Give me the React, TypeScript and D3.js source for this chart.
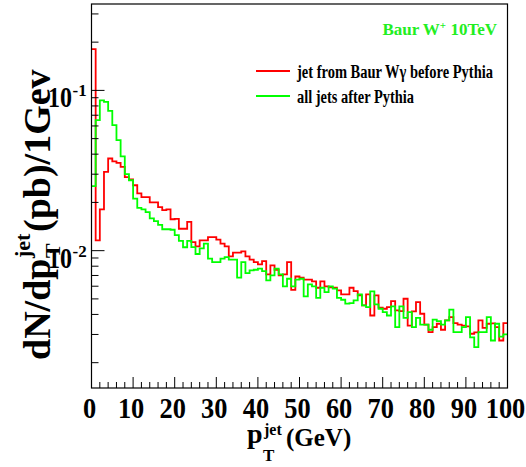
import React from 'react';
import * as d3 from 'd3';

// jet pT spectra, 1 GeV bins from 0 to 100
const redValues = [
  0.181, 0.0116, 0.0181, 0.031, 0.0376, 0.0361, 0.0353, 0.0333, 0.0288, 0.0278,
  0.0256, 0.0228, 0.0216, 0.0216, 0.02, 0.02, 0.0187, 0.0179, 0.0181, 0.0157,
  0.0158, 0.0137, 0.0137, 0.0151, 0.0113, 0.01064, 0.0116, 0.0116, 0.01216, 0.01216,
  0.01172, 0.01106, 0.01064, 0.00921, 0.00972, 0.00972, 0.0099, 0.00921, 0.0088, 0.00849,
  0.0082, 0.00861, 0.00711, 0.0081, 0.0076, 0.00701, 0.00711, 0.00849, 0.0057, 0.0069,
  0.00678, 0.00659, 0.00659, 0.00643, 0.00587, 0.00643, 0.00598, 0.0059, 0.00587, 0.00565,
  0.00533, 0.00533, 0.00587, 0.00559, 0.00526, 0.00455, 0.00533, 0.00394, 0.00526, 0.00441,
  0.00434, 0.00444, 0.00484, 0.00424, 0.00419, 0.00501, 0.00341, 0.00418, 0.00477, 0.00404,
  0.00346, 0.0031, 0.00333, 0.0035, 0.00321, 0.00367, 0.00385, 0.00353, 0.00346, 0.00341,
  0.00337, 0.00303, 0.00309, 0.00367, 0.0033, 0.0035, 0.00352, 0.00333, 0.00275, 0.00353,
];
const greenValues = [
  0.0253, 0.0652, 0.0866, 0.0849, 0.0746, 0.0607, 0.0489, 0.0388, 0.03, 0.0275,
  0.0211, 0.0185, 0.0181, 0.0174, 0.0159, 0.0153, 0.0145, 0.0136, 0.0136, 0.0135,
  0.0125, 0.0115, 0.0105, 0.0115, 0.01053, 0.00953, 0.01033, 0.01106, 0.00891, 0.00849,
  0.00849, 0.00891, 0.00912, 0.0088, 0.0088, 0.00678, 0.00849, 0.00724, 0.00753, 0.0076,
  0.00772, 0.00746, 0.00652, 0.00701, 0.00772, 0.00711, 0.00598, 0.00668, 0.00598, 0.00659,
  0.00668, 0.00518, 0.00616, 0.00598, 0.00508, 0.00587, 0.00551, 0.00598, 0.00579, 0.00508,
  0.00494, 0.00467, 0.0047, 0.00489, 0.00533, 0.00455, 0.00444, 0.00557, 0.00462, 0.00434,
  0.00413, 0.00394, 0.00449, 0.00333, 0.00449, 0.00381, 0.00413, 0.00333, 0.00381, 0.00346,
  0.00346, 0.00321, 0.00371, 0.00363, 0.00346, 0.00367, 0.00428, 0.0031, 0.0031, 0.00333,
  0.00385, 0.00288, 0.0025, 0.0031, 0.0031, 0.00385, 0.00275, 0.0035, 0.00291, 0.003,
];
const xTickLabels = [0, 10, 20, 30, 40, 50, 60, 70, 80, 90, 100];
const yMajor = [0.01, 0.1];
const legendLabels = ['jet from Baur W\u03b3 before Pythia', 'all jets after Pythia'];

const font = '"Liberation Serif", "DejaVu Serif", serif';

export default function App() {
  const left = 91.5, right = 507.5, top = 4, bottom = 388;
  const x = d3.scaleLinear().domain([0, 100]).range([left, right]);
  const y = d3.scaleLog().domain([0.00139, 0.346]).range([bottom, top]);

  const stepPath = (vals: number[]) => {
    const pts: [number, number][] = vals.map((v, i) => [x(i), y(v)]);
    pts.push([x(vals.length), y(vals[vals.length - 1])]);
    return d3.line().curve(d3.curveStepAfter)(pts) || '';
  };

  const minorX = d3.range(0, 101, 2).filter((v) => v % 10 !== 0);
  const minorY: number[] = [];
  [0.001, 0.01, 0.1].forEach((e) => {
    for (let k = 2; k <= 9; k++) {
      const v = k * e;
      if (v > y.domain()[0] && v < y.domain()[1]) minorY.push(v);
    }
  });

  return (
    <div style={{ position: 'absolute', left: 0, top: 0 }}>
      <svg width={526} height={467} style={{ display: 'block', background: '#fff' }}>
        <rect x={0} y={0} width={526} height={467} fill="#fff" />

        {/* histograms */}
        <path d={stepPath(redValues)} fill="none" stroke="#ff0000" strokeWidth={1.8} />
        <path d={stepPath(greenValues)} fill="none" stroke="#00ff00" strokeWidth={1.8} />

        {/* frame */}
        <rect x={left} y={top} width={right - left} height={bottom - top} fill="none" stroke="#000" strokeWidth={1.2} />

        {/* x ticks */}
        {xTickLabels.map((t) => (
          <line key={'xm' + t} x1={x(t)} x2={x(t)} y1={bottom} y2={bottom - 11} stroke="#000" strokeWidth={1} />
        ))}
        {minorX.map((t) => (
          <line key={'xn' + t} x1={x(t)} x2={x(t)} y1={bottom} y2={bottom - 6} stroke="#000" strokeWidth={1} />
        ))}
        {xTickLabels.map((t) => {
          const cx = x(t) - 2;
          return (
            <text key={'xl' + t} x={cx} y={418} textAnchor="middle" fontFamily={font} fontWeight="bold" fontSize={30}
              transform={`translate(${cx},0) scale(0.88,1) translate(${-cx},0)`}>
              {t}
            </text>
          );
        })}

        {/* y ticks */}
        {yMajor.map((t) => (
          <line key={'ym' + t} x1={left} x2={left + 13} y1={y(t)} y2={y(t)} stroke="#000" strokeWidth={1} />
        ))}
        {minorY.map((t) => (
          <line key={'yn' + t} x1={left} x2={left + 7} y1={y(t)} y2={y(t)} stroke="#000" strokeWidth={1} />
        ))}
        {yMajor.map((t) => (
          <g key={'yl' + t} fontFamily={font} fontWeight="bold">
            <text x={72} y={y(t) + 17} textAnchor="end" fontSize={30}
              transform={`translate(72,0) scale(0.8,1) translate(-72,0)`}>10</text>
            <text x={72.5} y={y(t) + 6} fontSize={17}>{Math.round(Math.log10(t))}</text>
          </g>
        ))}

        {/* x title */}
        <g fontFamily={font} fontWeight="bold">
          <text x={247} y={443} fontSize={28}>p</text>
          <text x={263} y={461} fontSize={17}>T</text>
          <text x={264} y={435} fontSize={16}>jet</text>
          <text x={286} y={446} fontSize={25}>(GeV)</text>
        </g>

        {/* y title */}
        <g transform="translate(50,360) rotate(-90)" fontFamily={font} fontWeight="bold">
          <text x={0} y={0} fontSize={38}>dN/dp</text>
          <text x={102} y={10} fontSize={22}>T</text>
          <text x={102} y={-20} fontSize={22}>jet</text>
          <text x={128} y={0} fontSize={38}>(pb)/1Gev</text>
        </g>

        {/* legend */}
        <g fontFamily={font} fontWeight="bold">
          <text x={497} y={35} fontSize={17} fill="#22ee22" textAnchor="end">
            Baur W<tspan dy={-6} fontSize={11}>+</tspan><tspan dy={6}> 10TeV</tspan>
          </text>
          {legendLabels.map((lab, i) => (
            <g key={lab}>
              <line x1={256} x2={290} y1={71 + i * 25} y2={71 + i * 25} stroke={i === 0 ? '#ff0000' : '#00ff00'} strokeWidth={1.8} />
              <text x={297} y={78 + i * 25} fontSize={18} textLength={i === 0 ? 196 : 117} lengthAdjust="spacingAndGlyphs">{lab}</text>
            </g>
          ))}
        </g>
      </svg>
    </div>
  );
}
